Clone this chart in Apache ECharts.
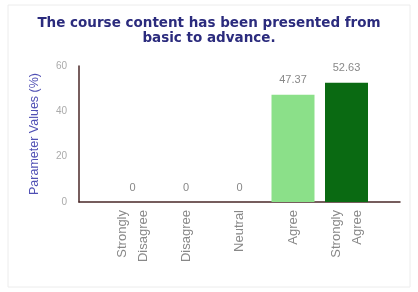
<!DOCTYPE html>
<html><head><meta charset="utf-8">
<script src="https://cdn.jsdelivr.net/npm/echarts@6/dist/echarts.min.js"></script>
<style>html,body{margin:0;padding:0;background:#fff}#c{width:418px;height:292px}</style>
</head><body><div id="c"></div>
<script>
const titleText = 'The course content has been presented from\nbasic to advance.';
const categories = ['Strongly\nDisagree', 'Disagree', 'Neutral', 'Agree', 'Strongly\nAgree'];
const values = [0, 0, 0, 47.37, 52.63];
const labels = ['0', '0', '0', '47.37', '52.63'];
const barColors = ['#8be089', '#8be089', '#8be089', '#8be089', '#0a6a12'];

const chart = echarts.init(document.getElementById('c'));
chart.setOption({
  animation: false,
  graphic: [{type: 'rect', shape: {x: 8, y: 5, width: 402, height: 282}, style: {fill: 'none', stroke: '#ececec', lineWidth: 1}, silent: true}],
  title: {text: titleText, left: 'center', top: 11, textStyle: {fontFamily: 'DejaVu Sans', fontWeight: 'bold', fontSize: 13.5, color: '#2b2b7d', lineHeight: 15}},
  grid: {left: 79, right: 18, top: 66, bottom: 90},
  xAxis: {
    type: 'value', min: -1, max: 5,
    splitLine: {show: false}, axisTick: {show: false},
    axisLine: {show: true, onZero: false, lineStyle: {color: '#4a2828', width: 1.5}},
    axisLabel: {
      customValues: [0, 1, 2, 3, 4], rotate: 90, margin: 8,
      formatter: v => categories[Math.round(v)] || '',
      fontFamily: 'Liberation Sans', fontSize: 13, color: '#888', lineHeight: 21
    }
  },
  yAxis: {
    type: 'value', min: 0, max: 60, interval: 20,
    name: 'Parameter Values (%)', nameLocation: 'middle', nameGap: 38,
    nameTextStyle: {fontFamily: 'Liberation Sans', fontSize: 12.5, color: '#5050b4'},
    splitLine: {show: false}, axisTick: {show: false},
    axisLine: {show: true, onZero: false, lineStyle: {color: '#4a2828', width: 1.5}},
    axisLabel: {fontFamily: 'Liberation Sans', fontSize: 10, color: '#aaa', margin: 12}
  },
  series: [{
    type: 'bar', barWidth: 43,
    data: values.map((v, i) => ({value: [i, v], itemStyle: {color: barColors[i]}})),
    label: {show: true, position: 'top', distance: 9, formatter: p => labels[p.dataIndex], fontFamily: 'Liberation Sans', fontSize: 11, color: '#888'}
  }]
});
</script></body></html>
